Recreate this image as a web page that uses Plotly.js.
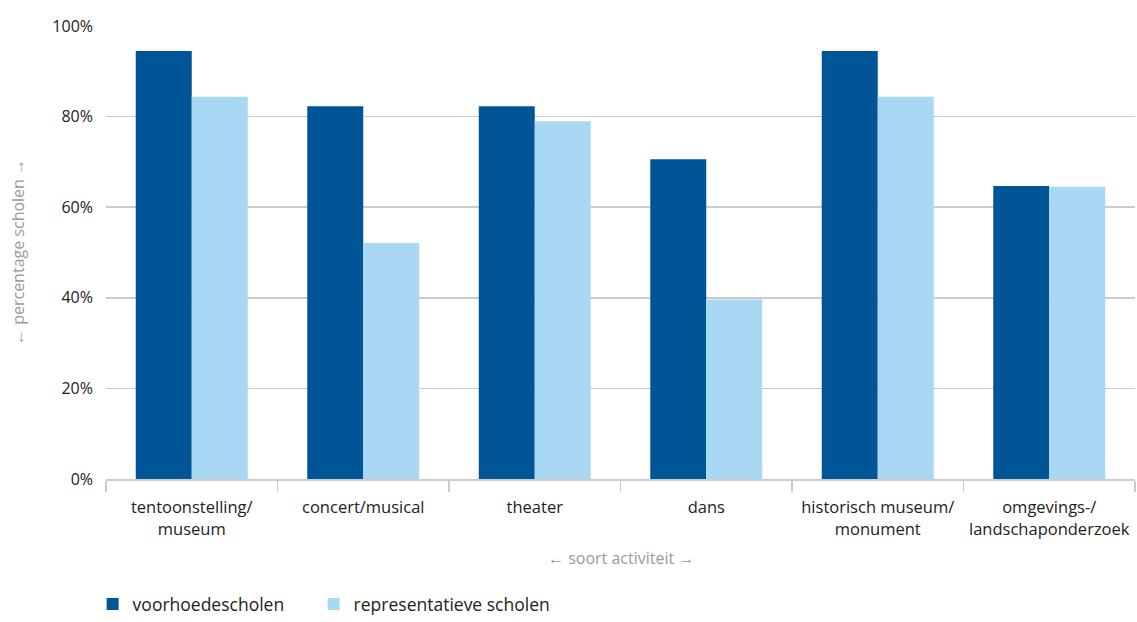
<!DOCTYPE html>
<html>
<head>
<meta charset="utf-8">
<script src="https://cdn.plot.ly/plotly-3.0.1.min.js"></script>
<style>html,body{margin:0;padding:0;background:#fff;}#chart{width:1137px;height:622px;}</style>
</head>
<body>
<div id="chart"></div>
<script>
const categories = ["tentoonstelling/<br>museum", "concert/musical", "theater", "dans", "historisch museum/<br>monument", "omgevings-/<br>landschaponderzoek"];
const voorhoede = [94.5, 82.3, 82.3, 70.6, 94.5, 64.7];
const representatief = [84.4, 52.1, 79.0, 39.6, 84.4, 64.5];
const seriesNames = ["voorhoedescholen", "representatieve scholen"];
const yTicks = [0, 20, 40, 60, 80, 100];
const yTickLabels = ["0%", "20%", "40%", "60%", "80%", "100%"];
const xTitle = "← soort activiteit →";
const yTitle = "← percentage scholen →";

const font = "Open Sans, Noto Sans, sans-serif";
const data = [
  {type: "bar", x: categories, y: voorhoede, name: seriesNames[0], marker: {color: "#005596"}, hoverinfo: "y", legend: "legend"},
  {type: "bar", x: categories, y: representatief, name: seriesNames[1], marker: {color: "#a8d8f3"}, hoverinfo: "y", legend: "legend2"}
];
const legendBase = {orientation: "h", xref: "paper", xanchor: "left", yref: "container", y: 0, yanchor: "bottom",
  font: {family: font, size: 17.5, color: "#222"}, tracegroupgap: 0, bgcolor: "rgba(0,0,0,0)"};
const layout = {
  width: 1137, height: 622,
  margin: {l: 106, r: 2, t: 26, b: 143},
  paper_bgcolor: "#fff", plot_bgcolor: "#fff",
  barmode: "group", bargap: 0.347, bargroupgap: 0,
  font: {family: font, size: 16, color: "#222"},
  xaxis: {
    tickson: "boundaries", ticks: "outside", ticklen: 11, tickcolor: "#cccccc", tickwidth: 1.5,
    showline: true, linecolor: "#cccccc", linewidth: 1.5, tickangle: 0,
    tickfont: {family: font, size: 16.5, color: "#222"},
    ticklabelstandoff: 13,
    automargin: false
  },
  yaxis: {
    range: [0, 100], tickmode: "array", tickvals: yTicks, ticktext: yTickLabels,
    showgrid: true, gridcolor: "#cccccc", gridwidth: 1.5, zeroline: false, showline: false,
    ticks: "", ticklabelstandoff: 12,
    tickfont: {family: font, size: 16, color: "#222"},
    automargin: false
  },
  annotations: [
    {text: xTitle, xref: "paper", yref: "paper", x: 0.5, y: -(558 - 479) / 453, xanchor: "center", yanchor: "middle",
     showarrow: false, font: {family: font, size: 16, color: "#9a9a9a"}},
    {text: yTitle, xref: "paper", yref: "paper", x: -(106 - 18) / 1029, y: (479 - 252) / 453, xanchor: "center", yanchor: "middle",
     textangle: -90, showarrow: false, font: {family: font, size: 16, color: "#9a9a9a"}}
  ],
  legend: Object.assign({}, legendBase, {x: -0.013}),
  legend2: Object.assign({}, legendBase, {x: -0.013 + (328 - 107) / 1029}),
  showlegend: true
};
Plotly.newPlot("chart", data, layout, {displayModeBar: false, staticPlot: true});
</script>
</body>
</html>
